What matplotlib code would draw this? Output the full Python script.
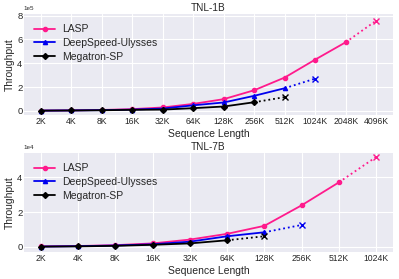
import matplotlib
matplotlib.use("Agg")
import matplotlib.pyplot as plt
from matplotlib.ticker import ScalarFormatter

plt.style.use('seaborn-v0_8-darkgrid')
plt.rcParams['font.family'] = ['Liberation Sans', 'DejaVu Sans']

labels_1b = ['2K', '4K', '8K', '16K', '32K', '64K', '128K', '256K', '512K', '1024K', '2048K', '4096K']
lasp_1b = [1800, 3500, 7000, 14000, 28000, 58000, 98000, 173000, 280000, 431000, 577000]
lasp_1b_oom = 759000
ds_1b = [1500, 3000, 5500, 10000, 19000, 46000, 70000, 126000, 190000]
ds_1b_oom = 271000
mg_1b = [1200, 2500, 4500, 8000, 10000, 22000, 36000, 72000]
mg_1b_oom = 115000

labels_7b = ['2K', '4K', '8K', '16K', '32K', '64K', '128K', '256K', '512K', '1024K']
lasp_7b = [300, 500, 1000, 2000, 4200, 7500, 12100, 23900, 37100]
lasp_7b_oom = 51700
ds_7b = [200, 400, 800, 1500, 3000, 6100, 8400]
ds_7b_oom = 12600
mg_7b = [150, 300, 600, 1200, 2000, 3800]
mg_7b_oom = 6100

series_names = ['LASP', 'DeepSpeed-Ulysses', 'Megatron-SP']
colors = ['#FF1A8C', '#0000EE', '#000000']
markers = ['o', '^', 'D']

fig = plt.figure(figsize=(3.99, 2.79), dpi=100)
ax1 = fig.add_axes([0.060, 0.588, 0.925, 0.362])
ax2 = fig.add_axes([0.060, 0.097, 0.925, 0.355])

def draw(ax, labels, data, title):
    for (vals, oom), name, c, m in zip(data, series_names, colors, markers):
        xs = list(range(len(vals)))
        ax.plot(xs, vals, color=c, marker=m, markersize=3, linewidth=1.3, label=name)
        ax.plot([len(vals) - 1, len(vals)], [vals[-1], oom], color=c, linestyle=':', linewidth=1.3)
        ax.plot([len(vals)], [oom], color=c, marker='x', markersize=4, linestyle='none')
    ax.set_xticks(range(len(labels)))
    ax.set_xticklabels(labels, fontsize=6.2)
    ax.tick_params(axis='y', labelsize=6.8, pad=1)
    ax.tick_params(axis='x', pad=1.5)
    ax.set_title(title, fontsize=7.2, pad=2)
    ax.set_xlabel('Sequence Length', fontsize=7.5, labelpad=2)
    ax.set_ylabel('Throughput', fontsize=7.5, labelpad=2)
    fmt = ScalarFormatter(useMathText=False)
    fmt.set_scientific(True)
    fmt.set_powerlimits((0, 0))
    ax.yaxis.set_major_formatter(fmt)
    ax.yaxis.get_offset_text().set_fontsize(4.5)
    ax.legend(loc='upper left', fontsize=7.5, frameon=False, handlelength=2.0,
              handletextpad=0.7, labelspacing=0.35, borderaxespad=0.6)

draw(ax1, labels_1b, [(lasp_1b, lasp_1b_oom), (ds_1b, ds_1b_oom), (mg_1b, mg_1b_oom)], 'TNL-1B')
draw(ax2, labels_7b, [(lasp_7b, lasp_7b_oom), (ds_7b, ds_7b_oom), (mg_7b, mg_7b_oom)], 'TNL-7B')
ax1.set_ylim(-35000, 815000)
ax1.set_yticks([0, 200000, 400000, 600000, 800000])
ax2.set_ylim(-2900, 54000)
ax2.set_yticks([0, 20000, 40000])

fig.savefig('out.png', dpi=100)
